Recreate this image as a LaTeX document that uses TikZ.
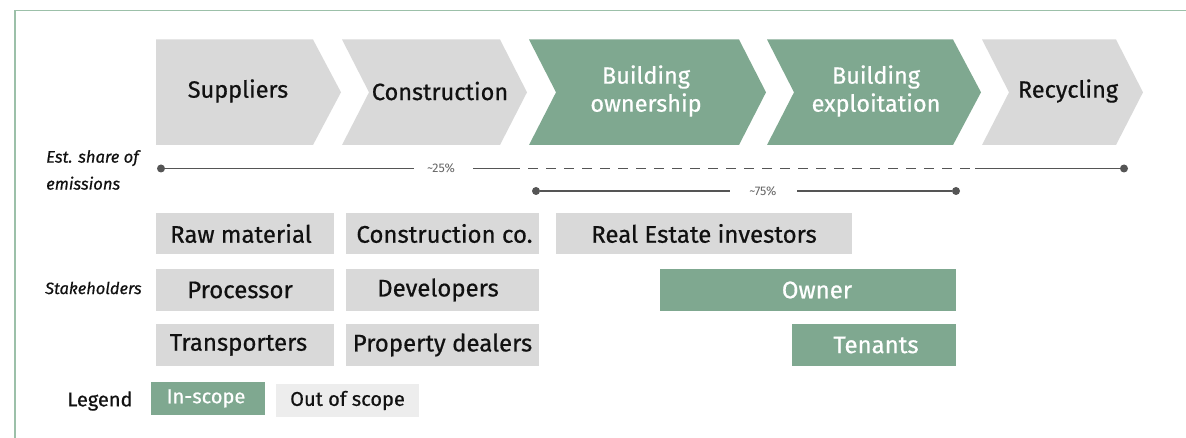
\documentclass[tikz,border=0pt]{standalone}
\usepackage{fontspec}
\setmainfont{Fira Sans}[FakeBold=0.6]
\newfontfamily\lightfont{Fira Sans}
\definecolor{ingreen}{HTML}{7FA890}
\definecolor{outgray}{HTML}{D9D9D9}
\definecolor{legendgray}{HTML}{EDEDED}
\definecolor{framegreen}{HTML}{9CC0A9}
\definecolor{linegray}{HTML}{555555}
\definecolor{pctgray}{HTML}{666666}
\definecolor{txtdark}{HTML}{111111}
\begin{document}
\begin{tikzpicture}[x=1pt,y=-1pt,
  chevin/.style={fill=ingreen},
  chevout/.style={fill=outgray},
  chevtxt/.style={font=\fontsize{23.5}{28}\selectfont, align=center, inner sep=0pt},
  sbox/.style={fill=outgray, text=txtdark, font=\fontsize{24}{26}\selectfont, inner sep=0pt, minimum height=41.5pt},
  gbox/.style={fill=ingreen, text=white, font=\fontsize{24}{26}\selectfont, inner sep=0pt, minimum height=41.5pt},
  sidelabel/.style={font=\fontsize{16.6}{27}\selectfont\itshape, text=txtdark, align=left, inner sep=0pt},
  emline/.style={draw=linegray, line width=1.5pt},
  emdash/.style={draw=linegray, line width=1.5pt, dash pattern=on 10pt off 8pt},
  pct/.style={font=\lightfont\fontsize{12.5}{14}\selectfont, text=pctgray, inner sep=0pt},
  dotend/.style={circle, fill=linegray, inner sep=0pt, minimum size=8pt},
  legtxt/.style={font=\fontsize{20}{24}\selectfont, inner sep=0pt}
]
\useasboundingbox (0,0) rectangle (1186,438);
% frame
\draw[framegreen, line width=1.3pt] (15,438) -- (15,10.7) -- (1186,10.7);

% chevrons
\fill[chevout] (156,39.5) -- (313,39.5) -- (341,92.3) -- (313,145) -- (156,145) -- cycle;
\fill[chevout] (342,39.5) -- (500,39.5) -- (527,92.3) -- (500,145) -- (342,145) -- (369,92.3) -- cycle;
\fill[chevin] (529,39.5) -- (739,39.5) -- (766,92.3) -- (739,145) -- (529,145) -- (556,92.3) -- cycle;
\fill[chevin] (767,39.5) -- (953,39.5) -- (981,92.3) -- (953,145) -- (767,145) -- (794,92.3) -- cycle;
\fill[chevout] (982,39.5) -- (1116,39.5) -- (1143,92.3) -- (1116,145) -- (982,145) -- (1009,92.3) -- cycle;

\node[chevtxt, text=txtdark] (sup) at (238,91) {Suppliers};
\node[chevtxt, text=txtdark] (con) at (440,91) {Construction};
\node[chevtxt, text=white] (own) at (646,91) {Building\\ownership};
\node[chevtxt, text=white] (exp) at (876,91) {Building\\exploitation};
\node[chevtxt, text=txtdark] (rec) at (1068,91) {Recycling};

% side labels
\node[sidelabel, anchor=west] (est) at (46,170) {Est. share of\\emissions};
\node[sidelabel, anchor=west, font=\fontsize{16.4}{18}\selectfont\itshape] (stk) at (45,288) {Stakeholders};

% emission lines
\node[dotend] (a1) at (161,168.5) {};
\node[dotend] (a2) at (1124,168.5) {};
\node[pct] (p25) at (441,168.5) {\textasciitilde25\%};
\coordinate (a0) at (414,168.5);
\coordinate (a5) at (473,168.5);
\coordinate (a3) at (510,168.5);
\coordinate (a4) at (975,168.5);
\draw[emline] (a1) -- (a0);
\draw[emline] (a5) -- (a3);
\draw[emdash] (a3) -- (a4);
\draw[emline] (a4) -- (a2);

\node[dotend] (b1) at (536,191) {};
\node[dotend] (b2) at (956,191) {};
\node[pct] (p75) at (763,191) {\textasciitilde75\%};
\coordinate (b3) at (730,191);
\coordinate (b4) at (797,191);
\draw[emline] (b1) -- (b3);
\draw[emline] (b4) -- (b2);

% stakeholders
\node[sbox, minimum width=178pt] (raw) at (245,233.5) {\hspace*{-8pt}Raw material};
\node[sbox, minimum width=193pt] (cco) at (442.5,233.5) {\hspace*{4pt}Construction co.};
\node[sbox, minimum width=296pt] (rei) at (704,233.5) {Real Estate investors};
\node[sbox, minimum width=178pt] (pro) at (245,290) {\hspace*{-10pt}Processor};
\node[sbox, minimum width=193pt] (dev) at (442.5,290) {\hspace*{-9pt}Developers};
\node[gbox, minimum width=296pt] (own2) at (808,290) {\hspace*{18pt}Owner};
\node[sbox, minimum width=178pt] (tra) at (245,345) {\hspace*{-13pt}Transporters};
\node[sbox, minimum width=193pt] (pdl) at (442.5,345) {Property dealers};
\node[gbox, minimum width=164pt] (ten) at (874,345) {\hspace*{4pt}Tenants};

% legend
\node[legtxt, text=txtdark] (leg) at (100,401) {Legend};
\node[legtxt, fill=ingreen, text=white, minimum width=114pt, minimum height=33pt] (ins) at (208,398.5) {\hspace*{-4pt}In-scope};
\node[legtxt, fill=legendgray, text=txtdark, minimum width=143pt, minimum height=33pt] (oos) at (347.5,400.5) {Out of scope};
\end{tikzpicture}
\end{document}
